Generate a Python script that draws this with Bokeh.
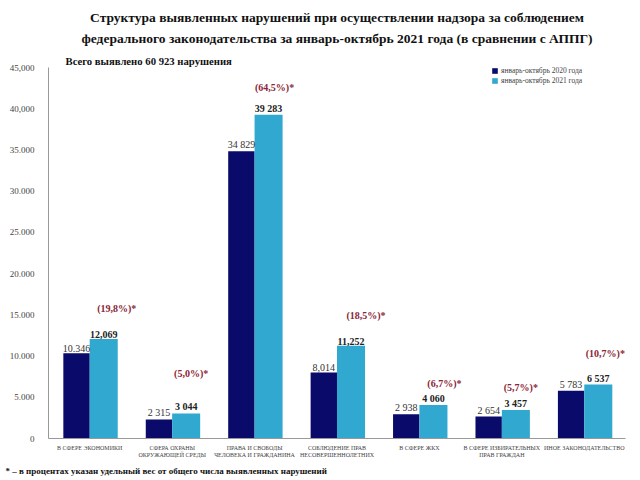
from bokeh.plotting import figure
from bokeh.models import (FactorRange, Range1d, FixedTicker, Title, Legend, LegendItem, ColumnDataSource)
from bokeh.transform import dodge
from bokeh.core.properties import value
from bokeh.embed import file_html
from bokeh.resources import INLINE

# ---- data ----
categories = ["В СФЕРЕ ЭКОНОМИКИ",
              "СФЕРА ОХРАНЫ\nОКРУЖАЮЩЕЙ СРЕДЫ",
              "ПРАВА И СВОБОДЫ\nЧЕЛОВЕКА И ГРАЖДАНИНА",
              "СОБЛЮДЕНИЕ ПРАВ\nНЕСОВЕРШЕННОЛЕТНИХ",
              "В СФЕРЕ ЖКХ",
              "В СФЕРЕ ИЗБИРАТЕЛЬНЫХ\nПРАВ ГРАЖДАН",
              "ИНОЕ ЗАКОНОДАТЕЛЬСТВО"]
values_2020 = [10346, 2315, 34829, 8014, 2938, 2654, 5783]
values_2021 = [12069, 3044, 39283, 11252, 4060, 3457, 6537]
labels_2020 = ["10.346", "2 315", "34 829", "8,014", "2 938", "2 654", "5 783"]
labels_2021 = ["12,069", "3 044", "39 283", "11,252", "4 060", "3 457", "6 537"]
total_2021 = 60923
series_names = ["январь-октябрь 2020 года", "январь-октябрь 2021 года"]
y_ticks = [0, 5000, 10000, 15000, 20000, 25000, 30000, 35000, 40000, 45000]
y_tick_labels = ["0", "5.000", "10.000", "15.000", "20.000", "25.000",
                 "30.000", "35.000", "40,000", "45,000"]

# ---- layout tweaks for percentage labels (screen px) ----
pct_dx = [13, 5, 6, 15, 11, 5, 7]
pct_dy = [30, 40, 27, 30, 22, 22, 31]

pct_text = ["(" + f"{v / total_2021 * 100:.1f}".replace(".", ",") + "%)*" for v in values_2021]

src = ColumnDataSource(dict(cat=categories, v20=values_2020, v21=values_2021,
                            l20=labels_2020, l21=labels_2021, pct=pct_text,
                            dx=pct_dx, dy=[-d for d in pct_dy]))

SERIF = "Liberation Serif"
DARK = "#0a0a6a"
LIGHT = "#31a8d0"

p = figure(width=640, height=480, x_range=FactorRange(factors=categories, range_padding=0),
           y_range=Range1d(0, 45000), output_backend="svg", toolbar_location=None,
           min_border_left=48, min_border_right=15, min_border_top=67, min_border_bottom=42)
p.title = None
p.outline_line_color = None
p.grid.visible = False
p.background_fill_color = "white"

r1 = p.vbar(x=dodge("cat", -0.16, range=p.x_range), top="v20", width=0.32, source=src,
            fill_color=DARK, line_color=None)
r2 = p.vbar(x=dodge("cat", 0.17, range=p.x_range), top="v21", width=0.34, source=src,
            fill_color=LIGHT, line_color=None)

p.text(x=dodge("cat", -0.16, range=p.x_range), y="v20", text="l20", source=src,
       text_align="center", text_baseline="bottom", y_offset=-1,
       text_font=value(SERIF), text_font_size="10px", text_color="#333333")
p.text(x=dodge("cat", 0.17, range=p.x_range), y="v21", text="l21", source=src,
       text_align="center", text_baseline="bottom", y_offset=-1,
       text_font=value(SERIF), text_font_size="10px", text_font_style="bold", text_color="#222222")
p.text(x=dodge("cat", 0.17, range=p.x_range), y="v21", text="pct", source=src,
       text_align="center", text_baseline="middle", x_offset="dx", y_offset="dy",
       text_font=value(SERIF), text_font_size="10px", text_font_style="bold", text_color="#8a2535")

# axes
p.yaxis.ticker = FixedTicker(ticks=y_ticks)
p.yaxis.major_label_overrides = {t: l for t, l in zip(y_ticks, y_tick_labels)}
p.yaxis.major_label_text_font = SERIF
p.yaxis.major_label_text_font_size = "9px"
p.yaxis.major_label_text_color = "#444444"
p.yaxis.major_tick_line_color = None
p.yaxis.minor_tick_line_color = None
p.yaxis.axis_line_color = "#999999"
p.yaxis.major_label_standoff = 8

p.xaxis.major_label_text_font = SERIF
p.xaxis.major_label_text_font_size = "6px"
p.xaxis.major_label_text_color = "#444444"
p.xaxis.major_tick_line_color = None
p.xaxis.axis_line_color = "#999999"
p.xaxis.major_label_standoff = 0

legend = Legend(items=[LegendItem(label=series_names[0], renderers=[r1]),
                       LegendItem(label=series_names[1], renderers=[r2])],
                location=(443, 353), label_text_font=SERIF, label_text_font_size="7.5px",
                glyph_width=7, glyph_height=7, label_height=8, spacing=1, padding=2, margin=0,
                border_line_color=None, background_fill_alpha=0, label_standoff=3)
p.add_layout(legend)

# titles (later-added go further out)
p.add_layout(Title(text="Всего выявлено 60 923 нарушения", align="left", offset=17,
                   text_font=SERIF, text_font_size="10.7px", text_font_style="bold",
                   text_color="#111111", standoff=2), "above")
p.add_layout(Title(text="федерального законодательства за январь-октябрь 2021 года (в сравнении с АППГ)",
                   align="center", text_font=SERIF, text_font_size="13.5px", text_font_style="bold",
                   text_color="#111111", standoff=11), "above")
p.add_layout(Title(text="Структура выявленных нарушений при осуществлении надзора за соблюдением",
                   align="center", text_font=SERIF, text_font_size="13.5px", text_font_style="bold",
                   text_color="#111111", standoff=-3), "above")
p.add_layout(Title(text="* – в процентах указан удельный вес от общего числа выявленных нарушений",
                   align="left", offset=-43, text_font=SERIF, text_font_size="9px",
                   text_font_style="bold", text_color="#111111", standoff=6), "below")

open("out.html", "w").write(file_html(p, INLINE))
